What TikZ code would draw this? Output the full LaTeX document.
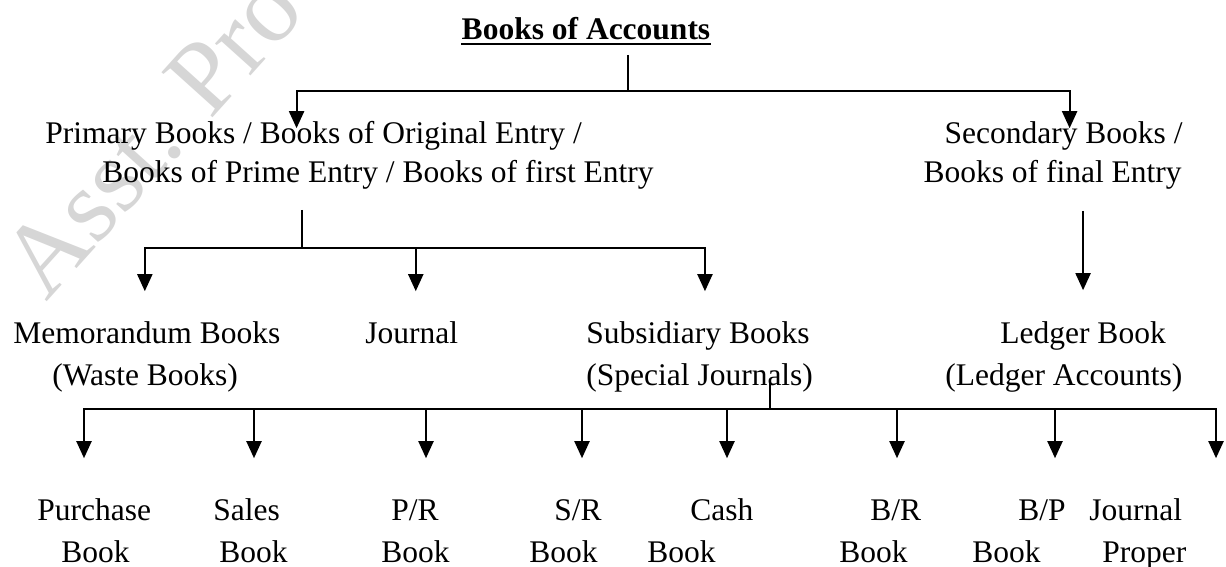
\documentclass[tikz,border=0pt]{standalone}
\usepackage{fontspec}
\setmainfont{Liberation Serif}
\usetikzlibrary{arrows.meta, positioning}
\tikzset{%
  booktext/.style={inner sep=0pt, anchor=base west, text height=0.72em, text depth=0.22em},
  headtext/.style={booktext, anchor=base, font=\fontsize{15.75}{19}\selectfont\bfseries},
  line/.style={draw, line width=1pt},
  arrowline/.style={draw, line width=1pt, -{Triangle[length=8.5pt, width=7.5pt]}},
  watermark/.style={inner sep=0pt, anchor=base west, text=black!16, font=\fontsize{52}{60}\selectfont, rotate=48}}

\begin{document}
\begin{tikzpicture}[x=0.5pt, y=-0.5pt, font=\fontsize{15.75}{19}\selectfont]
  \useasboundingbox (0,0) rectangle (1226,567);
  % watermark behind everything
  \begin{scope}
    \clip (0,0) rectangle (1226,567);
    \node[watermark] (wmark) at (46,303) {Asst. Pro};
  \end{scope}

  % top level
  \node[headtext] (books) at (586,40) {Books of Accounts};
  \draw[line width=1.1pt] ([yshift=-2pt]books.base west) -- ([yshift=-2pt]books.base east);
  \node[booktext] (prim1) at (45,143) {Primary Books / Books of Original Entry /};
  \node[booktext] (prim2) at (102,183) {Books of Prime Entry / Books of first Entry};
  \node[booktext, anchor=base east] (sec1) at (1183,143) {Secondary Books /};
  \node[booktext, anchor=base east] (sec2) at (1182,183) {Books of final Entry};
  \coordinate (acc) at (628,91);
  \draw[line, shorten <=5pt] (books.south -| acc) -- (acc);
  \draw[arrowline] (acc) -| ([xshift=-8.5pt]prim1.north);
  \draw[arrowline] (acc) -| ([xshift=3pt]sec1.north);

  % second level
  \node[booktext] (memo1) at (13,343) {Memorandum Books};
  \node[booktext] (memo2) at (52,385) {(Waste Books)};
  \node[booktext] (jour1) at (365,343) {Journal};
  \node[booktext] (subs1) at (586,343) {Subsidiary Books};
  \node[booktext] (subs2) at (586,385) {(Special Journals)};
  \node[booktext] (ledg1) at (1000,343) {Ledger Book};
  \node[booktext] (ledg2) at (945,385) {(Ledger Accounts)};
  \coordinate (prim) at (302,248);
  \draw[line, shorten <=11pt] (prim2.south -| prim) -- (prim);
  \draw[arrowline, shorten >=18.5pt] (prim) -| ([xshift=-1pt]memo1.north);
  \draw[arrowline, shorten >=18.5pt] (prim) -| ([xshift=2pt]jour1.north);
  \draw[arrowline, shorten >=18.5pt] (prim) -| ([xshift=3.5pt]subs1.north);
  \draw[arrowline, shorten <=11.5pt, shorten >=19pt] (sec2.south -| ledg1.north) -- (ledg1.north);

  % subsidiary books
  \coordinate (subs) at (770,409);
  \draw[line] (subs2 -| subs) -- (subs);
  \foreach \i/\ta/\xa/\tb/\xb/\ax in {1/Purchase/37/Book/61/84, 2/Sales/213/Book/219/254,
      3/{P/R}/391/Book/381/426, 4/{S/R}/554/Book/529/582, 5/Cash/690/Book/647/727,
      6/{B/R}/870/Book/839/897, 7/{B/P}/1018/Book/972/1055, 8/Journal/1089/Proper/1102/1216} {
    \node[booktext] (sub\i) at (\xa,520) {\ta};
    \node[booktext] (subb\i) at (\xb,562) {\tb};
    \coordinate (tip\i) at (\ax,450);
    \draw[arrowline, shorten >=23.5pt] (subs) -| (sub\i.north -| tip\i);
  }
\end{tikzpicture}
\end{document}
